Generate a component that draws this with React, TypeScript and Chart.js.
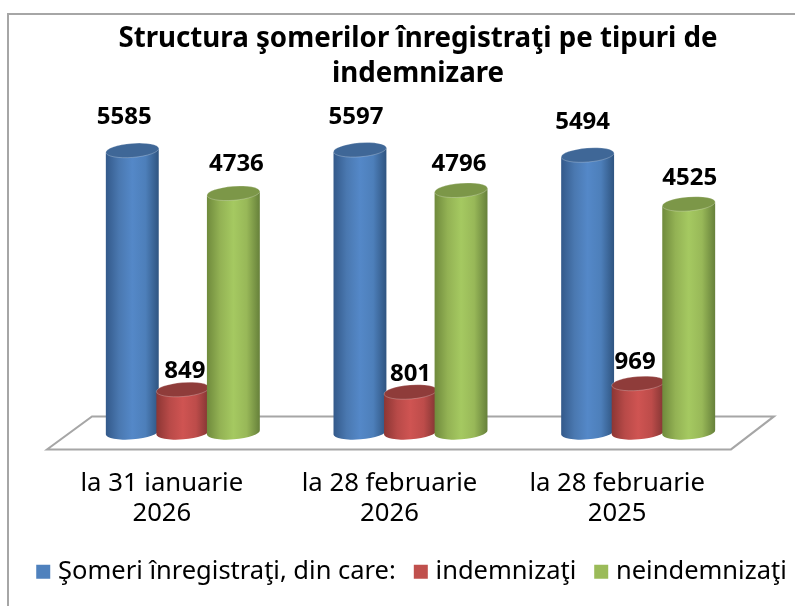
import React, { useEffect, useRef } from "react";
import { Chart, registerables } from "chart.js";

Chart.register(...registerables);

const categories = [
  ["la 31 ianuarie", "2026"],
  ["la 28 februarie", "2026"],
  ["la 28 februarie", "2025"],
];
const seriesNames = ["Şomeri înregistraţi, din care:", "indemnizaţi", "neindemnizaţi"];
const registered = [5585, 5597, 5494];
const compensated = [849, 801, 969];
const uncompensated = [4736, 4796, 4525];

const FONT = '"Noto Sans", sans-serif';
const solid = ["#4f81bd", "#c0504d", "#9bbb59"];
const bodyStops = [
  ["#33598a", "#4a78b0", "#5488c8", "#4d7fba", "#2f5480"],
  ["#8c3634", "#b84a48", "#cf5452", "#bd4c4a", "#7f3432"],
  ["#6f8a3c", "#93b254", "#a5c961", "#98b858", "#66803a"],
];
const capColors = ["#3f6797", "#8f3c3a", "#7c9748"];
const labelNudge = [
  [[-8, -33], [-4, -33], [-5, -33]],
  [[2, -18], [0, -18], [-3, -21]],
  [[3, -29], [-2, -26], [1, -26]],
];

const TILT = -0.08;
const RY = 7;

const cylinderPlugin = {
  id: "cylinders",
  beforeDraw(chart: any) {
    const { ctx } = chart;
    ctx.save();
    ctx.fillStyle = "#ffffff";
    ctx.fillRect(0, 0, chart.width, chart.height);
    ctx.strokeStyle = "#a6a6a6";
    ctx.lineWidth = 2;
    ctx.beginPath();
    ctx.moveTo(8, chart.height);
    ctx.lineTo(8, 14);
    ctx.lineTo(chart.width, 14);
    ctx.stroke();
    ctx.restore();
  },
  afterLayout(chart: any) {
    const l = chart.legend;
    l.left -= 4;
    l.right -= 4;
    l.top -= 6.5;
    l.bottom -= 6.5;
  },
  beforeDatasetDraw() {
    return false;
  },
  beforeDatasetsDraw(chart: any) {
    const { ctx, chartArea } = chart;
    const base = chartArea.bottom;
    ctx.save();
    ctx.beginPath();
    ctx.moveTo(chartArea.left - 22, base + 17);
    ctx.lineTo(chartArea.right - 21, base + 17);
    ctx.lineTo(chartArea.right + 22, base - 16);
    ctx.lineTo(chartArea.left + 23, base - 16);
    ctx.closePath();
    ctx.strokeStyle = "#a6a6a6";
    ctx.lineWidth = 2;
    ctx.stroke();

    chart.data.datasets.forEach((_: any, d: number) => {
      chart.getDatasetMeta(d).data.forEach((bar: any) => {
        const rx = bar.width / 2;
        const dx = rx * Math.cos(TILT);
        const dy = rx * Math.sin(TILT);
        const grad = ctx.createLinearGradient(bar.x - rx, 0, bar.x + rx, 0);
        bodyStops[d].forEach((c, i) => grad.addColorStop(i / 4, c));
        ctx.beginPath();
        ctx.moveTo(bar.x - dx, bar.y - dy);
        ctx.lineTo(bar.x - dx, bar.base - dy);
        ctx.ellipse(bar.x, bar.base, rx, RY, TILT, Math.PI, 0, true);
        ctx.lineTo(bar.x + dx, bar.y + dy);
        ctx.closePath();
        ctx.fillStyle = grad;
        ctx.fill();
        ctx.beginPath();
        ctx.ellipse(bar.x, bar.y, rx, RY, TILT, 0, Math.PI * 2);
        ctx.fillStyle = capColors[d];
        ctx.fill();
        ctx.strokeStyle = "rgba(255,255,255,0.25)";
        ctx.lineWidth = 1;
        ctx.stroke();
      });
    });
    ctx.restore();
  },
  afterDatasetsDraw(chart: any) {
    const { ctx } = chart;
    ctx.save();
    ctx.font = `bold 24px ${FONT}`;
    ctx.fillStyle = "#000000";
    ctx.textAlign = "center";
    ctx.textBaseline = "middle";
    chart.data.datasets.forEach((ds: any, d: number) => {
      chart.getDatasetMeta(d).data.forEach((bar: any, i: number) => {
        const [nx, ny] = labelNudge[d][i];
        ctx.fillText(String(ds.data[i]), bar.x + nx, bar.y + ny);
      });
    });
    ctx.restore();
  },
};

const blankAxis = (position: string, width: number) => ({
  position,
  min: 0,
  max: 6000,
  grid: { display: false, drawTicks: false },
  border: { display: false },
  ticks: { display: false },
  afterFit(axis: any) {
    axis.width = width;
  },
});

export default function App() {
  const ref = useRef<HTMLCanvasElement>(null);
  useEffect(() => {
    const chart = new Chart(ref.current as HTMLCanvasElement, {
      type: "bar",
      plugins: [cylinderPlugin],
      data: {
        labels: categories,
        datasets: [registered, compensated, uncompensated].map((data, i) => ({
          label: seriesNames[i],
          data,
          backgroundColor: solid[i],
          categoryPercentage: 0.666,
          barPercentage: 1.05,
        })),
      },
      options: {
        animation: false,
        responsive: false,
        layout: { padding: { bottom: 5 } },
        scales: {
          x: {
            grid: { display: false, drawTicks: false },
            border: { display: false },
            afterFit(axis: any) {
              axis.height -= 23;
            },
            ticks: {
              color: "#000000",
              padding: 37,
              labelOffset: -21,
              maxRotation: 0,
              autoSkip: false,
              font: { family: FONT, size: 25.7, lineHeight: 1.15 },
            },
          },
          y: blankAxis("left", 69),
          yRight: blankAxis("right", 84),
        },
        plugins: {
          tooltip: { enabled: false },
          title: {
            display: true,
            text: ["Structura şomerilor înregistraţi pe tipuri de", "indemnizare"],
            color: "#000000",
            font: { family: FONT, size: 27.7, weight: "bold", lineHeight: 1.29 },
            padding: { top: 21, bottom: 37 },
          },
          legend: {
            position: "bottom",
            labels: {
              color: "#000000",
              font: { family: FONT, size: 25.5 },
              usePointStyle: true,
              pointStyle: "rect",
              boxWidth: 4,
              boxHeight: 14,
              padding: 23,
            },
          },
        },
      } as any,
    });
    return () => chart.destroy();
  }, []);
  return (
    <div style={{ position: "absolute", left: 0, top: 0, width: 795, height: 606, overflow: "hidden" }}>
      <canvas ref={ref} width={836} height={606} style={{ display: "block" }} />
    </div>
  );
}
